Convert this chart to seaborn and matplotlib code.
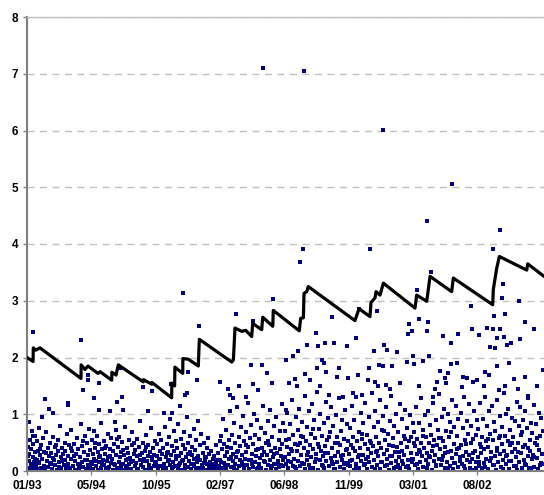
import matplotlib
matplotlib.use("Agg")
import matplotlib.pyplot as plt
import pandas as pd
import seaborn as sns

# x axis is in days counted from early January 1993
tick_days = [0, 500, 1000, 1500, 2000, 2500, 3000, 3500]
tick_labels = ["01/93", "05/94", "10/95", "02/97", "06/98", "11/99", "03/01", "08/02"]

# black sawtooth line (day, value)
line_days = [0, 47, 49, 68, 101, 420, 421, 451, 474, 552, 568, 659, 660, 692, 710,
             904, 905, 970, 971, 1125, 1126, 1148, 1150, 1211, 1212, 1254, 1332, 1340,
             1592, 1605, 1617, 1670, 1700, 1747, 1755, 1825, 1833, 1911, 1915, 2117,
             2128, 2149, 2154, 2175, 2187, 2550, 2582, 2667, 2675, 2706, 2714, 2745,
             2771, 3017, 3030, 3108, 3134, 3302, 3315, 3621, 3626, 3652, 3673, 3886,
             3893, 4020]
line_vals = [2.00, 1.93, 2.17, 2.13, 2.17, 1.63, 1.87, 1.79, 1.85, 1.72, 1.75, 1.60, 1.74, 1.69, 1.87,
             1.57, 1.61, 1.53, 1.56, 1.29, 1.55, 1.50, 1.83, 1.72, 1.98, 1.97, 1.85, 2.32,
             1.92, 1.96, 2.52, 2.46, 2.48, 2.37, 2.60, 2.49, 2.71, 2.55, 2.83, 2.47,
             2.69, 2.70, 3.13, 3.16, 3.25, 2.65, 2.86, 2.72, 2.97, 3.05, 3.16, 3.10,
             3.31, 2.87, 3.10, 2.99, 3.43, 3.16, 3.40, 2.93, 3.20, 3.57, 3.78, 3.54,
             3.65, 3.43]

# blue dots (day, value), one list per stretch of roughly 500 days
dots_a = [(5, 0.05), (8, 0.42), (12, 0.18), (15, 0.86), (18, 0.3), (22, 0.02), (26, 0.55), (30, 0.12),
          (34, 0.38), (38, 0.7), (41, 0.08), (45, 0.25), (50, 0.47), (54, 0.03), (58, 0.16), (62, 0.62),
          (66, 0.33), (70, 0.1), (74, 0.52), (79, 0.2), (83, 0.04), (88, 0.36), (92, 0.75), (96, 0.14),
          (101, 0.28), (105, 0.06), (110, 0.45), (118, 0.22), (124, 0.58), (130, 0.09), (136, 0.34),
          (142, 0.02), (148, 0.68), (154, 0.18), (160, 0.4), (166, 0.07), (172, 0.26), (178, 0.5),
          (184, 0.12), (190, 0.31), (196, 0.04), (202, 0.6), (208, 0.19), (214, 0.43), (220, 0.1),
          (226, 0.28), (232, 0.02), (238, 0.36), (244, 0.55), (250, 0.15), (256, 0.8), (262, 0.24),
          (268, 0.05), (274, 0.41), (280, 0.3), (286, 0.11), (292, 0.5), (298, 0.2), (304, 0.03),
          (310, 0.65), (316, 0.27), (322, 0.13), (328, 0.45), (334, 0.06), (340, 0.22), (346, 0.72),
          (352, 0.35), (358, 0.09), (364, 0.48), (370, 0.17), (376, 0.02), (382, 0.3), (388, 0.58),
          (394, 0.12), (400, 0.38), (406, 0.05), (412, 0.25), (418, 0.82), (424, 0.44), (430, 0.15),
          (436, 0.07), (442, 0.33), (448, 0.62), (454, 0.2), (460, 0.04), (466, 0.5), (472, 0.28),
          (478, 0.1), (484, 0.74), (490, 0.37), (496, 0.16),
          (10, 0.27), (28, 0.09), (44, 0.61), (63, 0.21), (85, 0.15), (103, 0.39), (127, 0.03),
          (151, 0.31), (175, 0.14), (199, 0.23), (223, 0.46), (247, 0.07), (271, 0.17), (295, 0.35),
          (319, 0.06), (343, 0.41), (367, 0.26), (391, 0.02), (415, 0.13), (439, 0.52), (463, 0.19),
          (487, 0.05),
          (47, 2.45), (420, 2.31), (140, 1.26), (320, 1.2), (322, 1.16), (170, 1.09), (115, 0.95),
          (200, 1.02), (435, 1.42), (475, 1.70), (477, 1.60)]
dots_b = [(502, 0.12), (506, 0.55), (511, 0.3), (515, 0.04), (520, 0.7), (524, 0.22), (529, 0.41),
          (533, 0.09), (538, 0.18), (544, 0.62), (549, 0.33), (553, 0.02), (558, 0.47), (563, 0.15),
          (569, 0.27), (574, 0.84), (579, 0.06), (584, 0.38), (590, 0.2), (595, 0.53), (600, 0.11),
          (606, 0.3), (611, 0.03), (617, 0.44), (622, 0.17), (628, 0.66), (633, 0.25), (639, 0.07),
          (644, 0.39), (650, 0.14), (656, 0.58), (661, 0.21), (667, 0.02), (672, 0.35), (678, 0.48),
          (683, 0.1), (689, 0.72), (695, 0.29), (700, 0.05), (706, 0.42), (712, 0.16), (717, 0.6),
          (723, 0.24), (729, 0.08), (734, 0.34), (740, 0.51), (746, 0.13), (751, 0.02), (757, 0.28),
          (763, 0.77), (768, 0.19), (774, 0.4), (780, 0.06), (785, 0.32), (791, 0.55), (797, 0.12),
          (802, 0.23), (808, 0.04), (814, 0.46), (819, 0.68), (825, 0.18), (831, 0.3), (836, 0.09),
          (842, 0.37), (848, 0.14), (853, 0.57), (859, 0.26), (865, 0.03), (870, 0.43), (876, 0.2),
          (882, 0.88), (887, 0.1), (893, 0.31), (899, 0.5), (904, 0.07), (910, 0.22), (916, 0.36),
          (921, 0.02), (927, 0.64), (933, 0.17), (938, 0.27), (944, 0.45), (950, 0.11), (955, 0.33),
          (961, 0.05), (967, 0.76), (972, 0.19), (978, 0.4), (984, 0.08), (990, 0.29), (996, 0.52),
          (509, 0.16), (531, 0.49), (556, 0.24), (581, 0.12), (603, 0.4), (626, 0.05), (648, 0.27),
          (675, 0.13), (698, 0.56), (721, 0.03), (743, 0.37), (766, 0.09), (789, 0.21), (812, 0.15),
          (834, 0.5), (857, 0.04), (880, 0.29), (902, 0.18), (925, 0.42), (947, 0.06), (970, 0.25),
          (993, 0.14),
          (521, 1.28), (560, 1.55), (562, 1.07), (645, 1.06), (684, 0.86), (700, 1.21), (723, 1.81),
          (739, 1.31), (746, 1.07), (902, 1.48), (941, 1.05), (972, 1.41)]
dots_c = [(1003, 0.15), (1008, 0.48), (1013, 0.27), (1018, 0.04), (1024, 0.66), (1029, 0.21),
          (1034, 0.36), (1040, 0.09), (1045, 0.55), (1050, 0.3), (1056, 0.02), (1061, 0.41),
          (1066, 0.13), (1072, 0.78), (1077, 0.24), (1082, 0.06), (1088, 0.47), (1093, 0.18),
          (1098, 0.33), (1104, 0.6), (1109, 0.11), (1114, 0.92), (1120, 0.28), (1125, 0.03),
          (1130, 0.44), (1136, 0.16), (1141, 0.7), (1146, 0.35), (1152, 0.08), (1157, 0.52),
          (1162, 0.22), (1168, 0.4), (1173, 0.05), (1178, 0.83), (1184, 0.26), (1189, 0.14),
          (1194, 0.57), (1200, 0.31), (1205, 0.02), (1210, 0.45), (1216, 0.19), (1221, 0.68),
          (1226, 0.1), (1232, 0.38), (1237, 0.25), (1242, 0.96), (1248, 0.07), (1253, 0.5),
          (1258, 0.17), (1264, 0.34), (1269, 0.62), (1274, 0.04), (1280, 0.29), (1285, 0.43),
          (1290, 0.12), (1296, 0.74), (1301, 0.21), (1306, 0.37), (1312, 0.06), (1317, 0.55),
          (1322, 0.15), (1328, 0.88), (1333, 0.27), (1338, 0.03), (1344, 0.46), (1349, 0.2),
          (1354, 0.65), (1360, 0.1), (1365, 0.32), (1370, 0.05), (1376, 0.49), (1381, 0.18),
          (1386, 0.24), (1392, 0.02), (1397, 0.4), (1402, 0.13), (1408, 0.58), (1413, 0.08),
          (1418, 0.3), (1424, 0.16), (1429, 0.04), (1434, 0.36), (1440, 0.11), (1445, 0.22),
          (1450, 0.03), (1456, 0.27), (1461, 0.09), (1466, 0.45), (1472, 0.14), (1477, 0.06),
          (1482, 0.31), (1488, 0.19), (1493, 0.02), (1498, 0.52),
          (1011, 0.09), (1036, 0.22), (1059, 0.05), (1085, 0.31), (1107, 0.19), (1133, 0.07),
          (1155, 0.26), (1181, 0.1), (1203, 0.17), (1229, 0.04), (1251, 0.3), (1277, 0.12),
          (1299, 0.08), (1325, 0.23), (1347, 0.06), (1373, 0.14), (1395, 0.25), (1421, 0.05),
          (1443, 0.12), (1469, 0.2), (1491, 0.08),
          (1065, 1.02), (1120, 1.54), (1128, 1.02), (1190, 1.15), (1213, 3.14), (1229, 1.34),
          (1242, 1.37), (1252, 1.74), (1322, 1.6), (1335, 2.56)]
dots_d = [(1503, 0.2), (1508, 0.62), (1513, 0.05), (1519, 0.38), (1524, 0.91), (1529, 0.14),
          (1535, 0.47), (1540, 0.27), (1546, 0.03), (1551, 0.73), (1556, 0.33), (1562, 0.1),
          (1567, 0.55), (1572, 0.21), (1578, 1.05), (1583, 0.4), (1588, 0.07), (1594, 0.64),
          (1599, 0.18), (1604, 0.3), (1610, 0.85), (1615, 0.12), (1620, 0.5), (1626, 0.25),
          (1631, 0.02), (1636, 1.12), (1642, 0.36), (1647, 0.6), (1652, 0.09), (1658, 0.44),
          (1663, 0.78), (1668, 0.16), (1674, 0.28), (1679, 0.97), (1684, 0.05), (1690, 0.52),
          (1695, 0.22), (1700, 0.69), (1706, 0.34), (1711, 0.11), (1716, 1.2), (1722, 0.42),
          (1727, 0.03), (1732, 0.58), (1738, 0.19), (1743, 0.81), (1748, 0.3), (1754, 0.07),
          (1759, 0.47), (1764, 1.01), (1770, 0.15), (1775, 0.63), (1780, 0.26), (1786, 0.04),
          (1791, 0.9), (1796, 0.38), (1802, 0.12), (1807, 0.56), (1812, 0.23), (1818, 0.75),
          (1823, 0.06), (1828, 0.41), (1834, 1.15), (1839, 0.17), (1844, 0.33), (1850, 0.67),
          (1855, 0.02), (1860, 0.5), (1866, 0.29), (1871, 0.88), (1876, 0.1), (1882, 0.45),
          (1887, 0.2), (1892, 1.08), (1898, 0.36), (1903, 0.08), (1908, 0.6), (1914, 0.24),
          (1919, 0.79), (1924, 0.13), (1930, 0.4), (1935, 0.03), (1940, 0.95), (1946, 0.31),
          (1951, 0.18), (1956, 0.54), (1962, 0.07), (1967, 0.71), (1972, 0.27), (1978, 0.11),
          (1983, 0.48), (1988, 0.85), (1994, 0.2),
          (1511, 0.16), (1537, 0.08), (1559, 0.42), (1585, 0.24), (1607, 0.05), (1633, 0.33),
          (1655, 0.19), (1681, 0.11), (1703, 0.45), (1729, 0.2), (1751, 0.13), (1777, 0.37),
          (1799, 0.06), (1825, 0.28), (1847, 0.15), (1873, 0.52), (1895, 0.04), (1921, 0.3),
          (1943, 0.12), (1969, 0.39), (1991, 0.09),
          (1501, 1.56), (1560, 1.45), (1579, 1.34), (1600, 1.28), (1625, 2.77), (1651, 1.49),
          (1700, 1.3), (1742, 1.87), (1755, 2.65), (1757, 1.53), (1800, 1.42), (1825, 1.87),
          (1833, 7.11), (1864, 1.73), (1903, 1.55), (1911, 3.03), (1981, 1.18)]
dots_e = [(2003, 0.25), (2008, 0.7), (2014, 0.12), (2019, 0.43), (2024, 1.02), (2030, 0.05),
          (2035, 0.57), (2040, 0.3), (2046, 0.83), (2051, 0.16), (2056, 0.38), (2062, 1.25),
          (2067, 0.09), (2072, 0.64), (2078, 0.22), (2083, 0.47), (2088, 0.95), (2094, 0.03),
          (2099, 0.35), (2104, 0.72), (2110, 0.18), (2115, 1.1), (2120, 0.5), (2126, 0.08),
          (2131, 0.28), (2136, 0.87), (2142, 0.14), (2147, 0.6), (2152, 0.41), (2158, 1.32),
          (2163, 0.04), (2168, 0.53), (2174, 0.2), (2179, 0.77), (2184, 0.33), (2190, 1.05),
          (2195, 0.1), (2200, 0.45), (2206, 0.66), (2211, 0.24), (2216, 1.18), (2222, 0.06),
          (2227, 0.39), (2232, 0.9), (2238, 0.15), (2243, 0.58), (2248, 0.3), (2254, 1.4),
          (2259, 0.02), (2264, 0.48), (2270, 0.74), (2275, 0.19), (2280, 1.0), (2286, 0.36),
          (2291, 0.11), (2296, 0.62), (2302, 0.27), (2307, 0.85), (2312, 0.05), (2318, 0.44),
          (2323, 1.22), (2328, 0.17), (2334, 0.55), (2339, 0.32), (2344, 0.93), (2350, 0.08),
          (2355, 0.68), (2360, 0.23), (2366, 1.12), (2371, 0.4), (2376, 0.13), (2382, 0.79),
          (2387, 0.03), (2392, 0.5), (2398, 0.26), (2403, 0.98), (2408, 0.16), (2414, 0.6),
          (2419, 0.34), (2424, 1.28), (2430, 0.07), (2435, 0.46), (2440, 0.71), (2446, 0.2),
          (2451, 0.89), (2456, 0.29), (2462, 0.04), (2467, 0.57), (2472, 1.08), (2478, 0.14),
          (2483, 0.37), (2488, 0.82), (2494, 0.1), (2499, 0.52),
          (2011, 0.55), (2033, 0.18), (2059, 0.36), (2081, 0.07), (2107, 0.46), (2129, 0.62),
          (2155, 0.12), (2177, 0.28), (2203, 0.05), (2225, 0.74), (2251, 0.21), (2273, 0.42),
          (2299, 0.09), (2321, 0.31), (2347, 0.6), (2369, 0.16), (2395, 0.04), (2417, 0.49),
          (2443, 0.27), (2465, 0.13), (2491, 0.38),
          (2014, 1.96), (2016, 1.08), (2040, 1.55), (2071, 2.02), (2084, 1.62), (2102, 1.49),
          (2110, 2.12), (2123, 3.69), (2149, 3.91), (2154, 7.04), (2162, 1.71), (2175, 2.22),
          (2200, 1.6), (2247, 2.44), (2252, 1.81), (2265, 2.2), (2280, 1.5), (2291, 1.96),
          (2309, 1.9), (2317, 2.25), (2323, 1.75), (2348, 1.34), (2369, 2.72), (2390, 2.26),
          (2410, 1.65), (2428, 1.81), (2460, 1.31), (2486, 2.2), (2498, 1.63)]
dots_f = [(2503, 0.3), (2508, 0.75), (2514, 0.08), (2519, 0.46), (2524, 1.15), (2530, 0.2),
          (2535, 0.6), (2540, 0.02), (2546, 0.9), (2551, 0.35), (2556, 0.13), (2562, 1.3),
          (2567, 0.52), (2572, 0.24), (2578, 0.68), (2583, 0.05), (2588, 0.41), (2594, 1.02),
          (2599, 0.17), (2604, 0.57), (2610, 0.29), (2615, 0.84), (2620, 0.1), (2626, 0.47),
          (2631, 1.2), (2636, 0.22), (2642, 0.63), (2647, 0.03), (2652, 0.38), (2658, 0.96),
          (2663, 0.15), (2668, 0.53), (2674, 0.31), (2679, 1.38), (2684, 0.07), (2690, 0.44),
          (2695, 0.78), (2700, 0.19), (2706, 1.06), (2711, 0.34), (2716, 0.6), (2722, 0.11),
          (2727, 0.87), (2732, 0.26), (2738, 0.49), (2743, 1.25), (2748, 0.04), (2754, 0.4),
          (2759, 0.72), (2764, 0.16), (2770, 0.97), (2775, 0.3), (2780, 0.55), (2786, 0.09),
          (2791, 1.12), (2796, 0.37), (2802, 0.21), (2807, 0.66), (2812, 0.02), (2818, 0.45),
          (2823, 0.88), (2828, 0.14), (2834, 1.33), (2839, 0.27), (2844, 0.58), (2850, 0.06),
          (2855, 0.8), (2860, 0.33), (2866, 0.18), (2871, 1.0), (2876, 0.42), (2882, 0.1),
          (2887, 0.69), (2892, 0.25), (2898, 1.18), (2903, 0.05), (2908, 0.5), (2914, 0.36),
          (2919, 0.92), (2924, 0.13), (2930, 0.62), (2935, 0.28), (2940, 1.08), (2946, 0.07),
          (2951, 0.43), (2956, 0.76), (2962, 0.2), (2967, 0.53), (2972, 0.03), (2978, 0.98),
          (2983, 0.31), (2988, 0.6), (2994, 0.15), (2999, 0.84),
          (2511, 0.18), (2533, 0.41), (2559, 0.06), (2581, 0.29), (2607, 0.65), (2629, 0.12),
          (2655, 0.24), (2677, 0.5), (2703, 0.04), (2725, 0.35), (2751, 0.15), (2773, 0.7),
          (2799, 0.1), (2821, 0.26), (2847, 0.44), (2869, 0.07), (2895, 0.33), (2917, 0.18),
          (2943, 0.56), (2965, 0.09), (2991, 0.22),
          (2537, 1.37), (2556, 2.34), (2576, 1.69), (2584, 2.85), (2603, 1.34), (2650, 1.6),
          (2662, 1.81), (2667, 3.91), (2698, 2.12), (2706, 1.57), (2724, 2.82), (2726, 1.5),
          (2740, 1.87), (2766, 1.85), (2768, 6.01), (2776, 2.22), (2792, 1.52), (2797, 2.13),
          (2820, 1.45), (2841, 1.85), (2875, 2.09), (2900, 1.55), (2957, 1.92), (2960, 2.41),
          (2973, 2.59), (2991, 2.47)]
dots_g = [(3003, 0.22), (3008, 0.68), (3014, 0.1), (3019, 0.44), (3024, 1.12), (3030, 0.3),
          (3035, 0.57), (3040, 0.04), (3046, 0.85), (3051, 0.37), (3056, 0.15), (3062, 1.28),
          (3067, 0.49), (3072, 0.26), (3078, 0.72), (3083, 0.07), (3088, 0.4), (3094, 0.98),
          (3099, 0.19), (3104, 0.6), (3110, 0.32), (3115, 1.05), (3120, 0.12), (3126, 0.5),
          (3131, 0.81), (3136, 0.24), (3142, 0.64), (3147, 0.02), (3152, 0.35), (3158, 1.2),
          (3163, 0.17), (3168, 0.55), (3174, 0.29), (3179, 0.9), (3184, 0.08), (3190, 0.46),
          (3195, 0.73), (3200, 0.21), (3206, 1.35), (3211, 0.38), (3216, 0.58), (3222, 0.11),
          (3227, 0.95), (3232, 0.27), (3238, 0.52), (3243, 1.1), (3248, 0.05), (3254, 0.42),
          (3259, 0.7), (3264, 0.16), (3270, 1.0), (3275, 0.33), (3280, 0.6), (3286, 0.09),
          (3291, 0.86), (3296, 0.36), (3302, 0.23), (3307, 1.25), (3312, 0.03), (3318, 0.48),
          (3323, 0.78), (3328, 0.14), (3334, 1.15), (3339, 0.3), (3344, 0.62), (3350, 0.07),
          (3355, 0.92), (3360, 0.4), (3366, 0.18), (3371, 1.03), (3376, 0.45), (3382, 0.12),
          (3387, 0.75), (3392, 0.26), (3398, 1.3), (3403, 0.04), (3408, 0.54), (3414, 0.34),
          (3419, 0.88), (3424, 0.2), (3430, 0.66), (3435, 0.28), (3440, 1.18), (3446, 0.06),
          (3451, 0.5), (3456, 0.8), (3462, 0.22), (3467, 0.57), (3472, 0.02), (3478, 1.06),
          (3483, 0.35), (3488, 0.63), (3494, 0.16), (3499, 0.9),
          (3011, 0.5), (3033, 0.13), (3059, 0.33), (3081, 0.61), (3107, 0.06), (3129, 0.27),
          (3155, 0.44), (3177, 0.1), (3203, 0.58), (3225, 0.19), (3251, 0.31), (3273, 0.05),
          (3299, 0.69), (3321, 0.14), (3347, 0.38), (3369, 0.24), (3395, 0.09), (3417, 0.47),
          (3443, 0.15), (3465, 0.32), (3491, 0.06),
          (3004, 2.03), (3009, 1.88), (3030, 3.19), (3050, 1.5), (3051, 2.68), (3082, 1.93),
          (3108, 2.46), (3113, 4.41), (3121, 2.62), (3128, 2.02), (3139, 3.5), (3155, 1.31),
          (3170, 1.45), (3186, 1.57), (3211, 1.77), (3232, 2.38), (3250, 1.63), (3260, 1.55),
          (3276, 1.72), (3295, 2.26), (3297, 1.88), (3307, 5.06), (3341, 1.9), (3354, 2.42),
          (3380, 1.48), (3393, 1.66), (3424, 1.63), (3450, 2.9), (3458, 2.5), (3471, 1.56)]
dots_h = [(3503, 0.25), (3508, 0.74), (3514, 0.09), (3519, 0.47), (3524, 1.2), (3530, 0.31),
          (3535, 0.6), (3540, 0.05), (3546, 0.92), (3551, 0.38), (3556, 0.14), (3562, 1.3),
          (3567, 0.52), (3572, 0.22), (3578, 0.8), (3583, 0.03), (3588, 0.43), (3594, 1.05),
          (3599, 0.18), (3604, 0.65), (3610, 0.34), (3615, 1.15), (3620, 0.1), (3626, 0.55),
          (3631, 0.86), (3636, 0.27), (3642, 0.7), (3647, 0.02), (3652, 0.4), (3658, 1.25),
          (3663, 0.16), (3668, 0.58), (3674, 0.3), (3679, 0.97), (3684, 0.07), (3690, 0.48),
          (3695, 0.77), (3700, 0.2), (3706, 1.38), (3711, 0.36), (3716, 0.62), (3722, 0.12),
          (3727, 1.0), (3732, 0.28), (3738, 0.53), (3743, 1.1), (3748, 0.04), (3754, 0.45),
          (3759, 0.73), (3764, 0.17), (3770, 0.94), (3775, 0.33), (3780, 0.6), (3786, 0.08),
          (3791, 0.88), (3796, 0.39), (3802, 0.24), (3807, 1.22), (3812, 0.02), (3818, 0.5),
          (3823, 0.8), (3828, 0.15), (3834, 1.12), (3839, 0.31), (3844, 0.64), (3850, 0.06),
          (3855, 0.9), (3860, 0.42), (3866, 0.19), (3871, 1.05), (3876, 0.46), (3882, 0.11),
          (3887, 0.76), (3892, 0.27), (3898, 1.28), (3903, 0.05), (3908, 0.55), (3914, 0.35),
          (3919, 0.85), (3924, 0.21), (3930, 0.67), (3935, 0.29), (3940, 1.16), (3946, 0.07),
          (3951, 0.5), (3956, 0.82), (3962, 0.23), (3967, 0.58), (3972, 0.03), (3978, 1.02),
          (3983, 0.37), (3988, 0.62), (3994, 0.14), (3999, 0.93), (4005, 0.3), (4010, 0.7),
          (4015, 0.12),
          (3511, 0.15), (3533, 0.42), (3559, 0.07), (3581, 0.56), (3607, 0.23), (3629, 0.11),
          (3655, 0.36), (3677, 0.62), (3703, 0.04), (3725, 0.27), (3751, 0.18), (3773, 0.5),
          (3799, 0.09), (3821, 0.33), (3847, 0.68), (3869, 0.13), (3895, 0.4), (3917, 0.05),
          (3943, 0.25), (3965, 0.46), (3991, 0.1),
          (3502, 1.6), (3517, 2.4), (3554, 1.49), (3560, 1.75), (3579, 2.52), (3595, 1.69),
          (3600, 2.19), (3621, 2.5), (3626, 3.91), (3631, 2.73), (3639, 2.16), (3653, 2.34),
          (3655, 1.85), (3673, 1.43), (3678, 4.25), (3680, 2.5), (3691, 3.05), (3699, 3.3),
          (3706, 2.37), (3717, 2.77), (3719, 1.49), (3730, 2.22), (3750, 1.9), (3761, 2.26),
          (3787, 1.62), (3820, 1.44), (3828, 2.99), (3834, 2.32), (3872, 2.62), (3874, 1.66),
          (3898, 1.32), (3945, 2.51), (3963, 1.49), (4010, 1.78)]

dots = pd.DataFrame(dots_a + dots_b + dots_c + dots_d + dots_e + dots_f + dots_g + dots_h,
                    columns=["day", "value"])

sns.set_theme(style="white")
plt.rcParams["font.family"] = ["Liberation Sans", "DejaVu Sans"]
plt.rcParams["font.weight"] = "bold"

fig = plt.figure(figsize=(5.44, 4.95), dpi=100)
ax = fig.add_axes([27 / 544, 24 / 495, 517 / 544, 454 / 495])

# dashed gridlines
ax.set_axisbelow(True)
ax.yaxis.grid(True, color="#c0c0c0", linestyle=(0, (5, 4)), linewidth=1)

sns.scatterplot(data=dots, x="day", y="value", color="#000080", marker="s",
                s=5, linewidth=0, ax=ax, zorder=2)
sns.lineplot(x=line_days, y=line_vals, color="black", linewidth=2.3,
             estimator=None, sort=False, ax=ax, zorder=3)

ax.set_xlim(0, 4020)
ax.set_ylim(0, 8)
ax.set_xticks(tick_days)
ax.set_xticklabels(tick_labels, fontweight="bold")
ax.set_yticks(range(0, 9))
ax.set_yticklabels([str(v) for v in range(0, 9)], fontweight="bold")
ax.set_xlabel("")
ax.set_ylabel("")

for side in ["left", "bottom"]:
    ax.spines[side].set_color("#808080")
    ax.spines[side].set_linewidth(1.5)
ax.spines["top"].set_color("#c0c0c0")
ax.spines["top"].set_linewidth(1)
ax.spines["right"].set_visible(False)

ax.tick_params(axis="both", bottom=True, left=True, direction="out", length=3,
               width=1, color="#808080", labelsize=8.5, labelcolor="black", pad=3.5)

fig.savefig("out.png", dpi=100)
